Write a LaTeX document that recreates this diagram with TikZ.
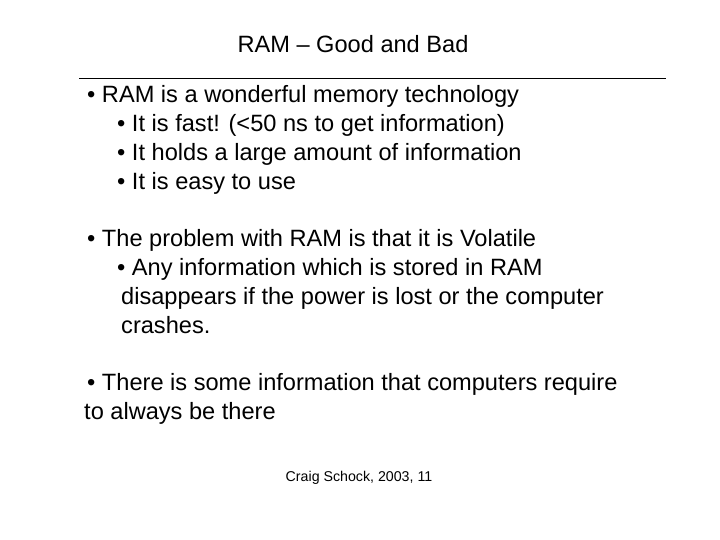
\documentclass[tikz,border=0pt]{standalone}
\usepackage{fontspec}
\setmainfont{Liberation Sans}
\begin{document}
\begin{tikzpicture}[x=1pt,y=-1pt,
  txt/.style={anchor=mid west,inner sep=0pt,font=\fontsize{23.6}{26}\selectfont},
  ttl/.style={anchor=mid,inner sep=0pt,font=\fontsize{23.6}{26}\selectfont},
  foot/.style={anchor=mid,inner sep=0pt,font=\fontsize{14.2}{16}\selectfont}]
\useasboundingbox[fill=white] (0,0) rectangle (720,540);
\node[ttl] (title) at (353,50) {RAM – Good and Bad};
\coordinate (l1) at (79,78); \coordinate (l2) at (666,78);
\draw[line width=0.8pt] (l1) -- (l2);
\node[txt] (a1) at (87,100) {• RAM is a wonderful memory technology};
\node[txt] (a2) at (117,129) {• It is fast! (<50 ns to get information)};
\node[txt] (a3) at (117,158) {• It holds a large amount of information};
\node[txt] (a4) at (117,187) {• It is easy to use};
\node[txt] (b1) at (87,244) {• The problem with RAM is that it is Volatile};
\node[txt] (b2) at (117,273) {• Any information which is stored in RAM};
\node[txt] (b3) at (121,302) {disappears if the power is lost or the computer};
\node[txt] (b4) at (121,331) {crashes.};
\node[txt] (c1) at (87,388) {• There is some information that computers require};
\node[txt] (c2) at (84,417) {to always be there};
\node[foot] (f) at (359,479) {Craig Schock, 2003, 11};
\end{tikzpicture}
\end{document}
